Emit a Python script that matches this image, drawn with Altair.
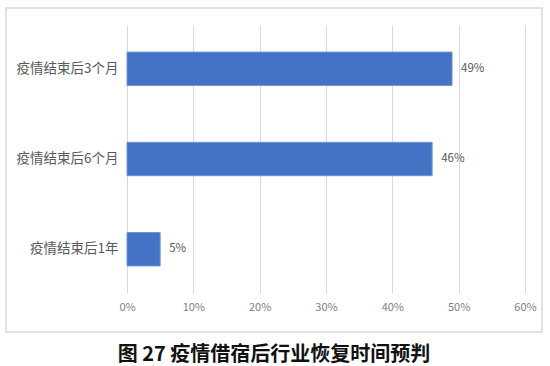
import altair as alt
import pandas as pd

# Expected recovery time after the epidemic ends (share of respondents, %)
categories = ["疫情结束后3个月", "疫情结束后6个月", "疫情结束后1年"]
shares = [49, 46, 5]
x_ticks = [0, 10, 20, 30, 40, 50, 60]
title_text = "图 27 疫情借宿后行业恢复时间预判"

df = pd.DataFrame({"cat": categories, "share": shares})
df["label"] = [f"{v}%" for v in shares]

FONT = "Noto Sans CJK SC"
GRID = "#d9d9d9"

x_enc = alt.X(
    "share:Q",
    scale=alt.Scale(domain=[0, 60], nice=False),
    axis=alt.Axis(
        values=x_ticks,
        labelExpr="datum.value + '%'",
        title=None,
        domain=False,
        ticks=False,
        grid=True,
        gridColor=GRID,
        gridWidth=1,
        labelFlush=False,
        labelColor="#7f7f7f",
        labelFontSize=11,
        labelFont=FONT,
        labelPadding=8,
    ),
)
y_enc = alt.Y(
    "cat:N",
    sort=categories,
    scale=alt.Scale(paddingInner=0.63, paddingOuter=0.3),
    axis=alt.Axis(
        title=None,
        domain=False,
        ticks=False,
        labelColor="#595959",
        labelFontSize=13.5,
        labelFont=FONT,
        labelPadding=9,
    ),
)

base = alt.Chart(df)

bars = base.mark_bar(color="#4472C4", stroke="#7096d6", strokeWidth=1).encode(
    x=x_enc, y=y_enc
)

labels = base.mark_text(
    align="left", baseline="middle", dx=9, fontSize=11.5, font=FONT, color="#595959"
).encode(x="share:Q", y=alt.Y("cat:N", sort=categories), text="label:N")

# light outer frame around the chart body
frame = alt.Chart(pd.DataFrame({"k": [0]})).mark_rect(
    fill=None, stroke=GRID, strokeWidth=1.5, clip=False
).encode(
    x=alt.value(-121), x2=alt.value(415), y=alt.value(-17), y2=alt.value(307)
)

chart = (
    alt.layer(frame, bars, labels)
    .properties(
        width=398,
        height=268,
        padding={"left": 127, "top": 25, "right": 25, "bottom": 73},
        autosize=alt.AutoSizeParams(type="none"),
        background="white",
        title=alt.TitleParams(
            title_text,
            orient="bottom",
            anchor="middle",
            dx=-52,
            offset=12,
            font=FONT,
            fontSize=20,
            fontWeight="bold",
            color="#111111",
        ),
    )
    .configure_view(stroke=None)
)

chart.save("out.html", embed_options={"renderer": "svg", "actions": False})
